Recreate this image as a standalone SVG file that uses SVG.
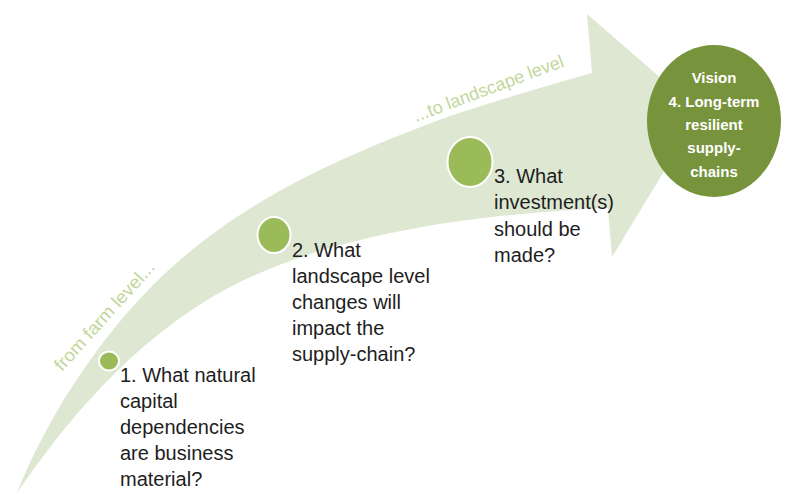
<svg xmlns="http://www.w3.org/2000/svg" width="790" height="494" viewBox="0 0 790 494">
<style>
.q{font-family:"Liberation Sans",Arial,sans-serif;font-size:20px;fill:#1e1e1e}
.lv{font-family:"Liberation Sans",Arial,sans-serif;font-size:18px;fill:#c3d69b}
.v{font-family:"Liberation Sans",Arial,sans-serif;font-size:15px;font-weight:bold;fill:#ffffff;text-anchor:middle}
.dot{fill:#9bbb59;stroke:#ffffff;stroke-width:2}
</style>
<rect width="790" height="494" fill="#ffffff"/>
<g id="connectors">
<path id="arrow" d="M17,493 C50,410 110,320 180,260 C250,200 330,160 450,116 Q520,93 592,73 L587,14 L700,112 L612,257 L608,208 C450,215 320,240 230,287 C130,340 60,430 17,493 Z" fill="#dde7d1"/>
</g>
<text class="lv" transform="translate(62,372) rotate(-48)" textLength="140" lengthAdjust="spacingAndGlyphs">from farm level...</text>
<text class="lv" transform="translate(416,122) rotate(-20.5)">...to landscape level</text>
<g id="node1">
<ellipse class="dot" cx="109" cy="361" rx="10" ry="9.5"/>
<text class="q" x="120"><tspan x="120" y="382">1. What natural</tspan><tspan x="120" y="408">capital</tspan><tspan x="120" y="434">dependencies</tspan><tspan x="120" y="460">are business</tspan><tspan x="120" y="486">material?</tspan></text>
</g>
<g id="node2">
<ellipse class="dot" cx="274" cy="235" rx="16.5" ry="18"/>
<text class="q"><tspan x="292" y="257">2. What</tspan><tspan x="292" y="283">landscape level</tspan><tspan x="292" y="309">changes will</tspan><tspan x="292" y="335">impact the</tspan><tspan x="292" y="361">supply-chain?</tspan></text>
</g>
<g id="node3">
<ellipse class="dot" cx="470" cy="162" rx="22.5" ry="25"/>
<text class="q"><tspan x="494" y="183">3. What</tspan><tspan x="494" y="209">investment(s)</tspan><tspan x="494" y="236">should be</tspan><tspan x="494" y="262">made?</tspan></text>
</g>
<g id="vision">
<ellipse cx="714" cy="121" rx="67" ry="76" fill="#77933c"/>
<text class="v"><tspan x="714" y="83">Vision</tspan><tspan x="714" y="107">4. Long-term</tspan><tspan x="714" y="130">resilient</tspan><tspan x="714" y="153">supply-</tspan><tspan x="714" y="177">chains</tspan></text>
</g>
</svg>
